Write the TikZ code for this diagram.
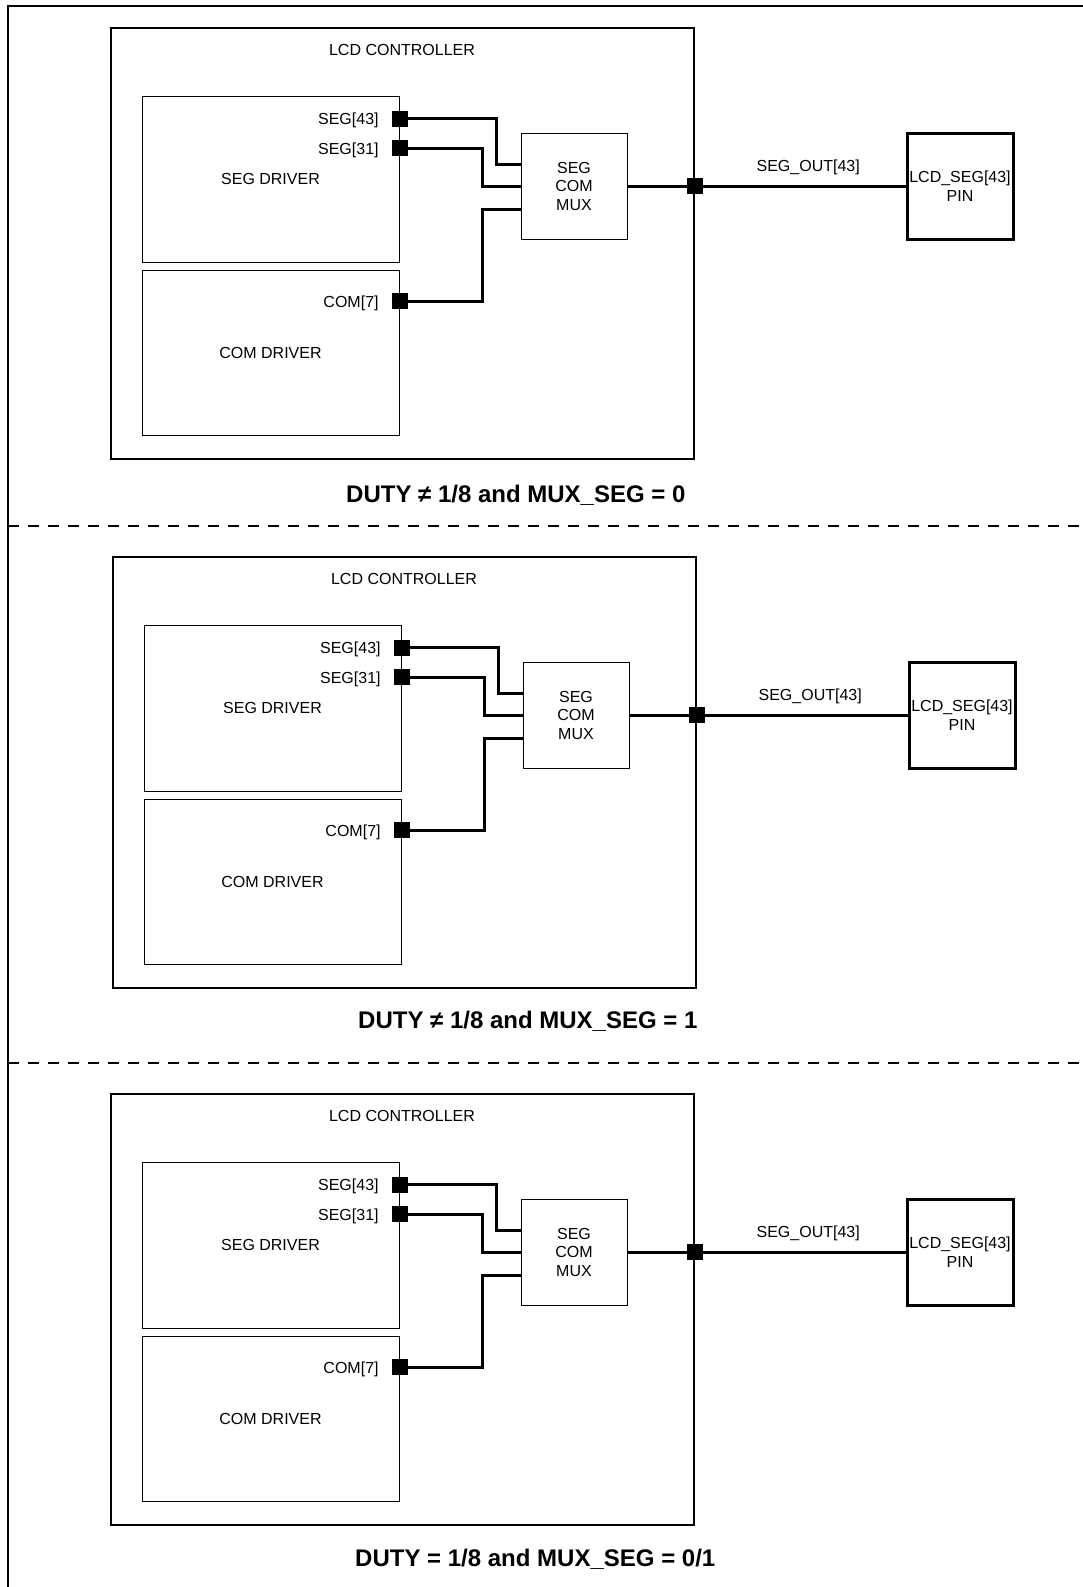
\documentclass[tikz,border=0pt]{standalone}
\usepackage{fontspec}
\setmainfont{Liberation Sans}
\usetikzlibrary{positioning}

\begin{document}
\begin{tikzpicture}[x=1pt,y=-1pt,font=\fontsize{16}{18.5}\selectfont,
  drvbox/.style={draw,line width=0.9pt,minimum width=257pt,minimum height=166pt,inner sep=0pt},
  ctlbox/.style={draw,line width=2.4pt,minimum width=583pt,minimum height=431pt},
  muxbox/.style={draw,line width=0.9pt,minimum size=106pt,align=center,inner sep=0pt},
  pinbox/.style={muxbox,line width=3pt},
  pad/.style={fill,minimum size=16pt,inner sep=0pt},
  sig/.style={inner sep=0pt,yshift=-2pt},
  wire/.style={line width=3pt},
  sepline/.style={line width=2.5pt,dash pattern=on 11pt off 9pt},
  captxt/.style={font=\fontsize{24}{27}\selectfont\bfseries,anchor=west,inner sep=0pt}]
  \useasboundingbox (0,0) rectangle (1082,1587);
  \draw[line width=2.5pt] (8,1587) -- (8,6) -- (1083,6);
  \draw[sepline] (8,526) -- (1082,526);
  \draw[sepline] (8,1063) -- (1082,1063);
  \foreach \dx/\dy/\cx/\cy/\txt in {0/0/346/495/{DUTY ≠ 1/8 and MUX\_SEG = 0},
      2/529/356/492/{DUTY ≠ 1/8 and MUX\_SEG = 1},
      0/1066/355/493/{DUTY = 1/8 and MUX\_SEG = 0/1}}{
  \begin{scope}[xshift=\dx pt,yshift=-\dy pt]
    \node[ctlbox] (ctl) at (402.5,243.5) {};
    \node (ctltxt) at (402,50) {LCD CONTROLLER};
    \node[drvbox] (segdrv) at (270.5,179) {SEG DRIVER};
    \node[drvbox,minimum height=165pt] (comdrv) at (270.5,352.5) {COM DRIVER};
    \node[muxbox] (mux) at (574,186) {SEG\\COM\\MUX};
    \node[pinbox] (pin) at (960,186) {LCD\_SEG[43]\\PIN};
    \coordinate (j) at (ctl.east |- mux.east);
    % driver outputs
    \node[pad] (p43) at (400,118.5) {};
    \node[pad] (p31) at (400,148) {};
    \node[pad] (p7) at (400,301) {};
    \node[sig,left=13pt of p43] (l43) {SEG[43]};
    \node[sig,left=13pt of p31] (l31) {SEG[31]};
    \node[sig,left=13pt of p7] (l7) {COM[7]};
    \draw[wire] (p43) -| ([xshift=-24pt,yshift=22pt]mux.west) -- ([yshift=22pt]mux.west);
    \draw[wire] (p31) -| ([xshift=-38pt]mux.west) -- (mux.west);
    \draw[wire] (p7) -| ([xshift=-38pt,yshift=-23pt]mux.west) -- ([yshift=-23pt]mux.west);
    \draw[wire] (mux) -- node[pos=0.65,above=6pt] (outtxt) {SEG\_OUT[43]} (pin);
    \node[pad] (jn) at (j) {};
    \node[captxt] (cond) at (\cx,\cy) {\txt};
  \end{scope}}
\end{tikzpicture}
\end{document}
